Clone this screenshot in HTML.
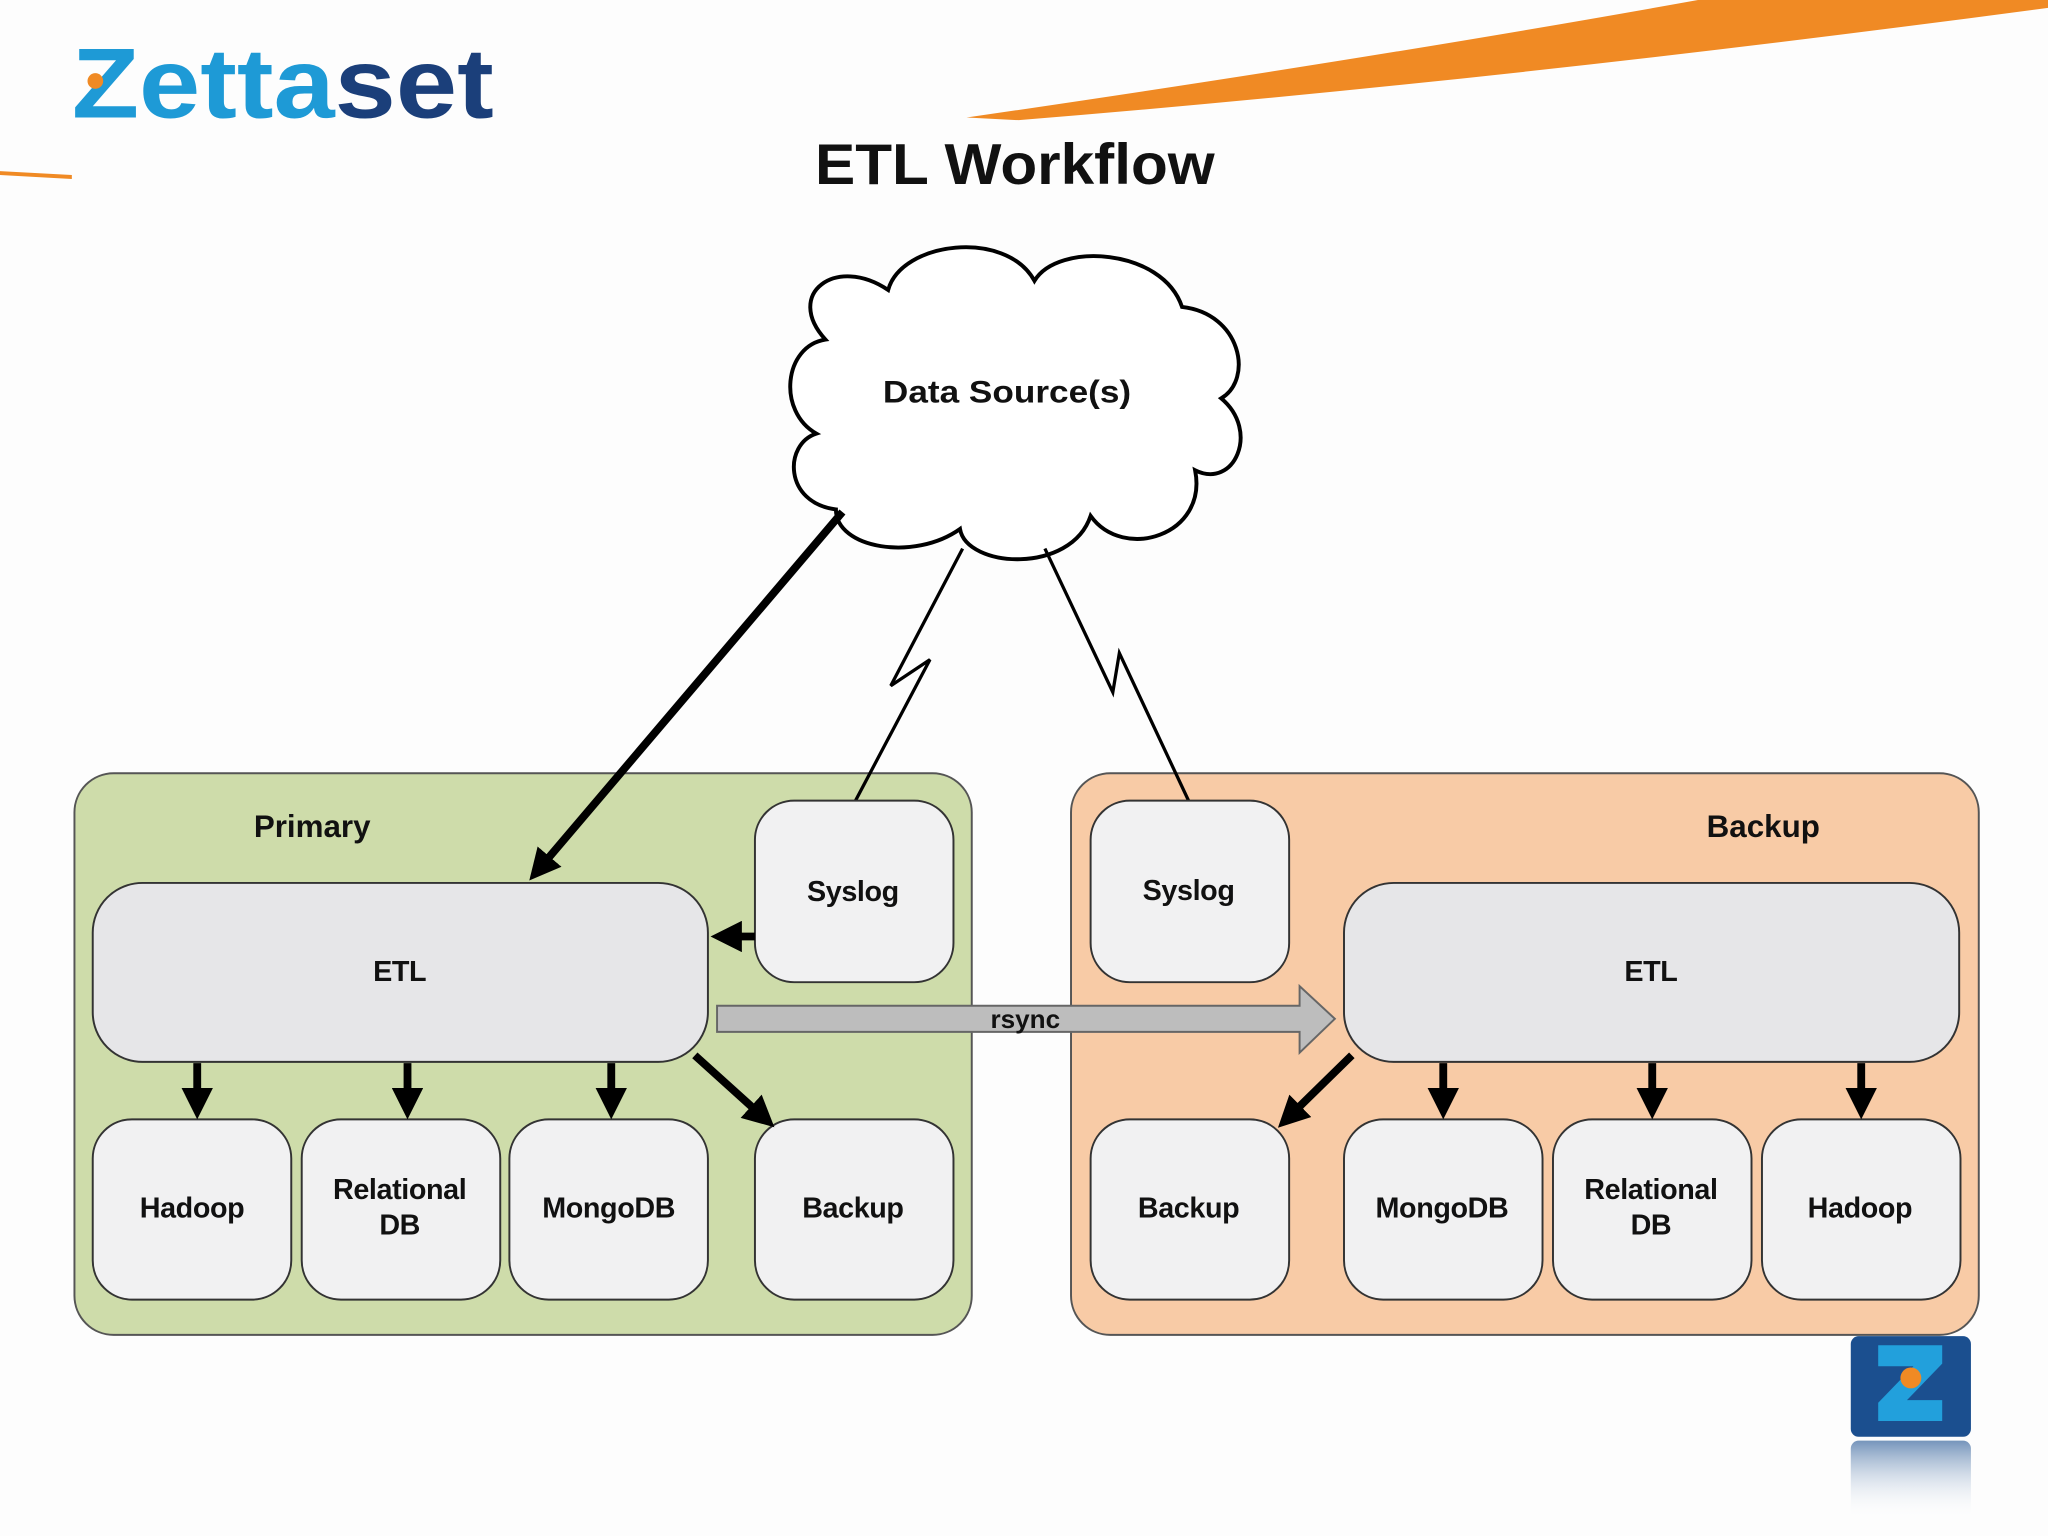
<!DOCTYPE html>
<html><head><meta charset="utf-8"><style>
html,body{margin:0;padding:0;background:#fdfdfd;}
svg{display:block;}
text{font-family:"Liberation Sans",sans-serif;font-weight:bold;fill:#111;}
</style></head><body>
<svg width="2048" height="1536" viewBox="0 0 1568 1176" preserveAspectRatio="none" xmlns="http://www.w3.org/2000/svg">
<defs>
<linearGradient id="ref" x1="0" y1="0" x2="0" y2="1"><stop offset="0" stop-color="#1b4f8f" stop-opacity="0.6"/><stop offset="1" stop-color="#fff" stop-opacity="0"/></linearGradient>
<marker id="ah" markerWidth="4" markerHeight="4" refX="2" refY="2" orient="auto" markerUnits="strokeWidth"><path d="M0,0 L4,2 L0,4 z" fill="#000"/></marker>
</defs>
<rect width="1568" height="1176" fill="#fdfdfd"/>
<!-- orange swoosh -->
<path d="M740,90 Q1050,45 1300,0 L1568,0 L1568,6 Q1150,62 780,92 Z" fill="#f08a24"/>
<path d="M0,131 L55,134 L55,137 L0,134 Z" fill="#f08a24"/>
<!-- logo -->
<text x="55" y="90" font-size="76" textLength="323" lengthAdjust="spacingAndGlyphs" style="fill:#1e9ad6">Zetta<tspan style="fill:#1b3f7a">set</tspan></text>
<circle cx="73" cy="62" r="6" fill="#f08a24"/>
<!-- title -->
<text x="777" y="141" font-size="44" text-anchor="middle" textLength="306" lengthAdjust="spacingAndGlyphs">ETL Workflow</text>
<!-- cloud -->
<path d="M640,390 C600,385 600,340 625,332 C595,315 600,265 632,260 C600,225 640,195 680,222 C690,185 770,175 792,215 C810,185 890,190 905,235 C950,240 960,290 935,305 C965,330 945,375 915,360 C925,410 860,430 835,395 C820,440 740,435 735,405 C700,430 640,420 640,390 Z" fill="#fff" stroke="#000" stroke-width="3"/>
<text x="771" y="308" font-size="24" text-anchor="middle" textLength="190" lengthAdjust="spacingAndGlyphs">Data Source(s)</text>
<!-- containers -->
<rect x="57" y="592" width="687" height="430" rx="30" fill="#cedcaa" stroke="#555" stroke-width="1.5"/>
<rect x="820" y="592" width="695" height="430" rx="30" fill="#f8cba6" stroke="#555" stroke-width="1.5"/>
<text x="239" y="641" font-size="24" text-anchor="middle">Primary</text>
<text x="1350" y="641" font-size="24" text-anchor="middle">Backup</text>
<!-- lightning lines -->
<polyline points="737,420 682,525 712,505 655,613" fill="none" stroke="#000" stroke-width="2.5"/>
<polyline points="800,420 852,530 857,500 910,613" fill="none" stroke="#000" stroke-width="2.5"/>
<!-- boxes -->
<g fill="#f1f1f2" stroke="#333" stroke-width="1.5">
<rect x="578" y="613" width="152" height="139" rx="30"/>
<rect x="71" y="676" width="471" height="137" rx="38" fill="#e6e6e8"/>
<rect x="71" y="857" width="152" height="138" rx="30"/>
<rect x="231" y="857" width="152" height="138" rx="30"/>
<rect x="390" y="857" width="152" height="138" rx="30"/>
<rect x="578" y="857" width="152" height="138" rx="30"/>
<rect x="835" y="613" width="152" height="139" rx="30"/>
<rect x="1029" y="676" width="471" height="137" rx="38" fill="#e6e6e8"/>
<rect x="835" y="857" width="152" height="138" rx="30"/>
<rect x="1029" y="857" width="152" height="138" rx="30"/>
<rect x="1189" y="857" width="152" height="138" rx="30"/>
<rect x="1349" y="857" width="152" height="138" rx="30"/>
</g>
<g font-size="22" text-anchor="middle" style="letter-spacing:-0.3px">
<text x="653" y="690">Syslog</text>
<text x="306" y="751">ETL</text>
<text x="147" y="932">Hadoop</text>
<text x="306" y="918">Relational</text><text x="306" y="945">DB</text>
<text x="466" y="932">MongoDB</text>
<text x="653" y="932">Backup</text>
<text x="910" y="689">Syslog</text>
<text x="1264" y="751">ETL</text>
<text x="910" y="932">Backup</text>
<text x="1104" y="932">MongoDB</text>
<text x="1264" y="918">Relational</text><text x="1264" y="945">DB</text>
<text x="1424" y="932">Hadoop</text>
</g>
<!-- arrows -->
<g stroke="#000" stroke-width="6" marker-end="url(#ah)">
<line x1="645" y1="392" x2="413" y2="665"/>
<line x1="578" y1="717" x2="556" y2="717"/>
<line x1="151" y1="814" x2="151" y2="845"/>
<line x1="312" y1="814" x2="312" y2="845"/>
<line x1="468" y1="814" x2="468" y2="845"/>
<line x1="532" y1="808" x2="584" y2="855"/>
<line x1="1035" y1="808" x2="987" y2="855"/>
<line x1="1105" y1="814" x2="1105" y2="845"/>
<line x1="1265" y1="814" x2="1265" y2="845"/>
<line x1="1425" y1="814" x2="1425" y2="845"/>
</g>
<!-- rsync -->
<path d="M549,770 L995,770 L995,755 L1022,780 L995,806 L995,790 L549,790 Z" fill="#bdbdbd" stroke="#666" stroke-width="1.5"/>
<text x="785" y="787" font-size="20" text-anchor="middle">rsync</text>
<!-- bottom-right icon -->
<rect x="1417" y="1023" width="92" height="77" rx="6" fill="#1b4f8f"/>
<path d="M1438,1030 L1487,1030 L1487,1044 L1460,1072 L1487,1072 L1487,1088 L1438,1088 L1438,1074 L1465,1046 L1438,1046 Z" fill="#22a0dc"/>
<circle cx="1463" cy="1055" r="8" fill="#f08a24"/>
<rect x="1417" y="1103" width="92" height="60" rx="6" fill="url(#ref)"/>
</svg>
</body></html>
